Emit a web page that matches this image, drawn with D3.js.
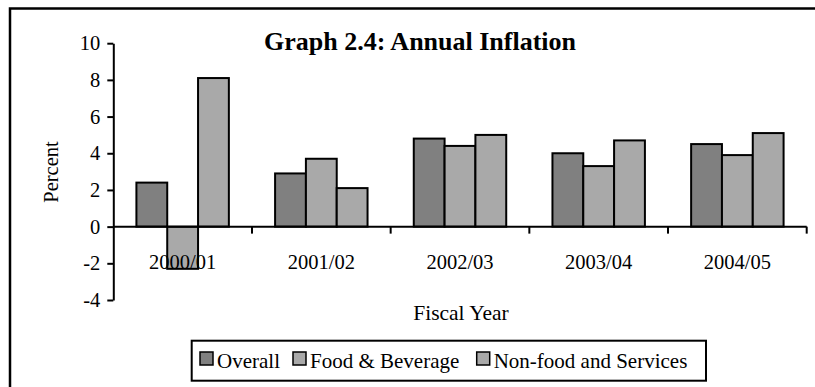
<!DOCTYPE html>
<html>
<head>
<meta charset="utf-8">
<script src="https://cdn.jsdelivr.net/npm/d3@7"></script>
<style>
  html, body { margin: 0; padding: 0; background: #fff; }
  svg { display: block; font-family: 'Liberation Serif', 'Times New Roman', serif; }
</style>
</head>
<body>
<div id="chart"></div>
<script>
// Graph 2.4: Annual Inflation (percent, by fiscal year)
const categories = ['2000/01', '2001/02', '2002/03', '2003/04', '2004/05'];
const seriesNames = ['Overall', 'Food & Beverage', 'Non-food and Services'];
const overall = [2.4, 2.9, 4.8, 4.0, 4.5];
const foodBeverage = [-2.3, 3.7, 4.4, 3.3, 3.9];
const nonFood = [8.1, 2.1, 5.0, 4.7, 5.1];
const yTicks = [-4, -2, 0, 2, 4, 6, 8, 10];

const COLORS = {
  Overall: '#808080',
  'Food & Beverage': '#a9a9a9',
  'Non-food and Services': '#a9a9a9',
};

const width = 815;
const height = 387;

const rows = categories.map((c, i) => ({
  cat: c,
  values: [
    { name: seriesNames[0], value: overall[i] },
    { name: seriesNames[1], value: foodBeverage[i] },
    { name: seriesNames[2], value: nonFood[i] },
  ],
}));

const svg = d3
  .select('#chart')
  .append('svg')
  .attr('width', width)
  .attr('height', height);

// outer frame (runs off the right and bottom edges)
svg
  .append('rect')
  .attr('x', 10)
  .attr('y', 8.5)
  .attr('width', 900)
  .attr('height', 500)
  .attr('fill', 'none')
  .attr('stroke', '#000')
  .attr('stroke-width', 2.5);

const x0 = d3.scaleBand().domain(categories).range([113.3, 806.7]);
const x1 = d3.scaleBand().domain(seriesNames).range([0, x0.bandwidth()]).paddingOuter(0.75);
const y = d3.scaleLinear().domain([-4, 10]).range([300, 43.2]);

// bars
svg
  .append('g')
  .selectAll('g')
  .data(rows)
  .join('g')
  .attr('transform', (d) => `translate(${x0(d.cat)},0)`)
  .selectAll('rect')
  .data((d) => d.values)
  .join('rect')
  .attr('x', (d) => x1(d.name))
  .attr('y', (d) => y(Math.max(0, d.value)))
  .attr('width', x1.bandwidth())
  .attr('height', (d) => Math.abs(y(d.value) - y(0)))
  .attr('fill', (d) => COLORS[d.name])
  .attr('stroke', '#000')
  .attr('stroke-width', 2);

// y axis (plain hyphen for negatives, like the original)
const yAxis = svg
  .append('g')
  .attr('transform', `translate(${x0.range()[0]},0)`)
  .call(
    d3.axisLeft(y).tickValues(yTicks).tickFormat((d) => String(d)).tickSize(6).tickPadding(7).tickSizeOuter(0)
  );
yAxis.select('.domain').attr('stroke-width', 2);
yAxis.selectAll('.tick line').attr('stroke-width', 2);
yAxis
  .selectAll('.tick text')
  .attr('font-family', "'Liberation Serif', 'Times New Roman', serif")
  .attr('font-size', 20.5)
  .attr('fill', '#000');

// x axis along zero
const xAxis = svg.append('g');
xAxis
  .append('line')
  .attr('x1', x0.range()[0])
  .attr('x2', x0.range()[1])
  .attr('y1', y(0))
  .attr('y2', y(0))
  .attr('stroke', '#000')
  .attr('stroke-width', 2);
xAxis
  .selectAll('line.tick')
  .data(categories)
  .join('line')
  .attr('class', 'tick')
  .attr('x1', (d) => x0(d) + x0.bandwidth())
  .attr('x2', (d) => x0(d) + x0.bandwidth())
  .attr('y1', y(0))
  .attr('y2', y(0) + 7)
  .attr('stroke', '#000')
  .attr('stroke-width', 2);
xAxis
  .selectAll('text')
  .data(categories)
  .join('text')
  .attr('x', (d) => x0(d) + x0.bandwidth() / 2)
  .attr('y', 268.5)
  .attr('text-anchor', 'middle')
  .attr('font-size', 20.5)
  .text((d) => d);

// titles
svg
  .append('text')
  .attr('x', 420)
  .attr('y', 50)
  .attr('text-anchor', 'middle')
  .attr('font-size', 26)
  .attr('font-weight', 700)
  .text('Graph 2.4: Annual Inflation');

svg
  .append('text')
  .attr('transform', 'translate(58,172) rotate(-90)')
  .attr('text-anchor', 'middle')
  .attr('font-size', 20.5)
  .text('Percent');

svg
  .append('text')
  .attr('x', 461)
  .attr('y', 320)
  .attr('text-anchor', 'middle')
  .attr('font-size', 21.5)
  .text('Fiscal Year');

// legend
const legend = svg.append('g');
legend
  .append('rect')
  .attr('x', 191.7)
  .attr('y', 340.7)
  .attr('width', 514.3)
  .attr('height', 40)
  .attr('fill', '#fff')
  .attr('stroke', '#000')
  .attr('stroke-width', 2);

const legendX = [200, 293, 476.7];
const item = legend
  .selectAll('g.item')
  .data(seriesNames)
  .join('g')
  .attr('class', 'item')
  .attr('transform', (d, i) => `translate(${legendX[i]},0)`);
item
  .append('rect')
  .attr('x', 0)
  .attr('y', 352)
  .attr('width', 13)
  .attr('height', 13)
  .attr('fill', (d) => COLORS[d])
  .attr('stroke', '#000')
  .attr('stroke-width', 1.5);
item
  .append('text')
  .attr('x', 17)
  .attr('y', 368)
  .attr('font-size', 21)
  .text((d) => d);
</script>
</body>
</html>
